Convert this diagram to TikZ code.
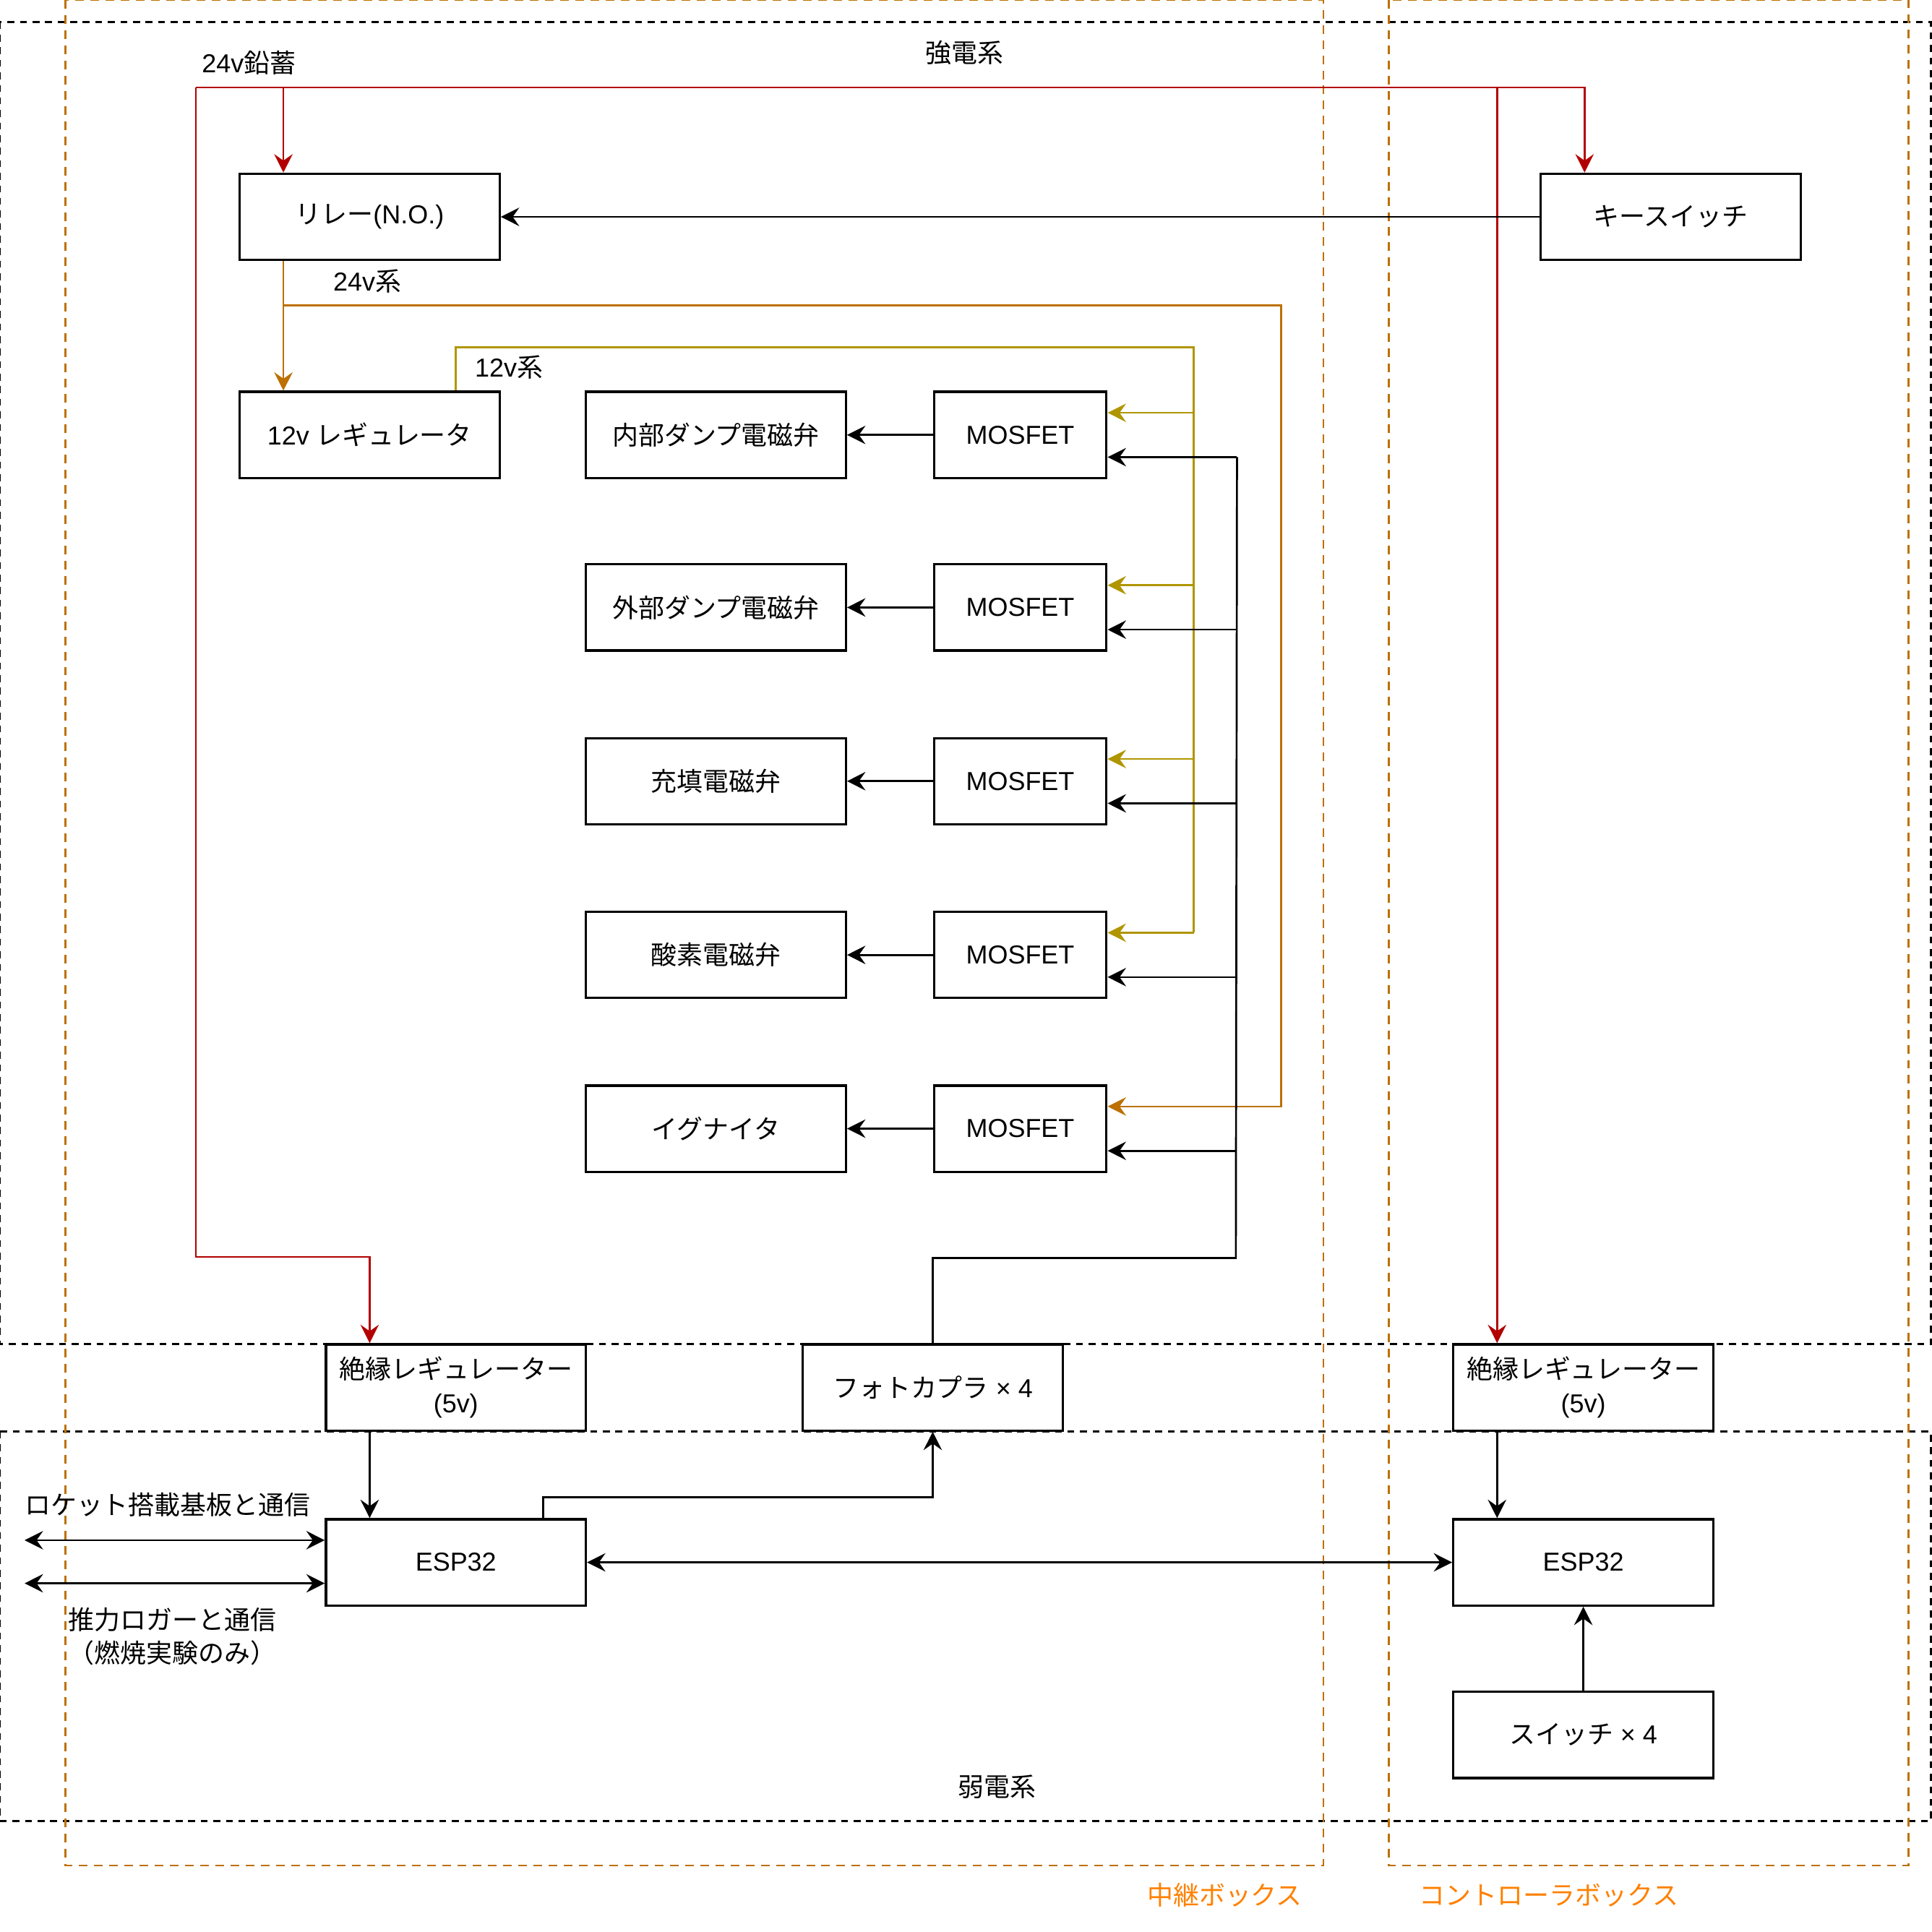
\documentclass[tikz,border=0pt]{standalone}
\usepackage{fontspec}
\setmainfont{Liberation Sans}
\newfontfamily\jp{Noto Sans CJK JP}
\usepackage{tikz}
\usetikzlibrary{arrows.meta}
\definecolor{leadred}{HTML}{B20000}
\definecolor{volta}{HTML}{BD7000}
\definecolor{voltb}{HTML}{B09500}
\definecolor{casetext}{HTML}{FF8000}

\begin{document}
\begin{tikzpicture}[x=0.02cm, y=-0.02cm,
  font=\fontsize{12}{15.5}\selectfont,
  blk/.style={draw, line width=1.1pt, fill=white, minimum width=4.22cm, minimum height=1.4cm, inner sep=1pt, align=center},
  fet/.style={blk, minimum width=2.8cm},
  lab/.style={inner sep=0pt, align=center},
  zone/.style={draw, line width=1pt, dash pattern=on 3.2pt off 2.6pt},
  case/.style={draw=volta, line width=0.9pt, dash pattern=on 4pt off 3pt},
  sig/.style={draw=black, line width=0.9pt},
  pwr/.style={draw=leadred, line width=0.9pt},
  va/.style={draw=volta, line width=0.9pt},
  vb/.style={draw=voltb, line width=0.9pt},
  tip/.style={-{Stealth[length=8.5pt, width=8.5pt, inset=3pt]}},
  both/.style={{Stealth[length=8.5pt, width=8.5pt, inset=3pt]}-{Stealth[length=8.5pt, width=8.5pt, inset=3pt]}}]
\useasboundingbox (0,0) rectangle (1568,1568);
\draw[zone] (0,18) rectangle (1567,1091);
\draw[zone] (0,1162) rectangle (1567,1478);
\draw[case] (53,0) rectangle (1074,1514);
\draw[case] (1127,0) rectangle (1549,1514);

\node[blk] (relay) at (300,176) {{\jp リレー}(N.O.)};
\node[blk] (key) at (1356,176) {\jp キースイッチ};
\node[blk] (reg) at (300,353) {12v {\jp レギュレータ}};
\node[blk] (sol1) at (581,353) {\jp 内部ダンプ電磁弁};
\node[blk] (sol2) at (581,493) {\jp 外部ダンプ電磁弁};
\node[blk] (sol3) at (581,634) {\jp 充填電磁弁};
\node[blk] (sol4) at (581,775) {\jp 酸素電磁弁};
\node[blk] (sol5) at (581,916) {\jp イグナイタ};
\foreach \i/\y in {1/353,2/493,3/634,4/775,5/916}
  \node[fet] (mos\i) at (828,\y) {MOSFET};
\node[blk] (iso1) at (370,1126) {{\jp 絶縁レギュレーター}\\(5v)};
\node[blk] (pc) at (757,1126) {{\jp フォトカプラ} × 4};
\node[blk] (iso2) at (1285,1126) {{\jp 絶縁レギュレーター}\\(5v)};
\node[blk] (esp1) at (370,1268) {ESP32};
\node[blk] (esp2) at (1285,1268) {ESP32};
\node[blk] (sw) at (1285,1408) {{\jp スイッチ} × 4};

\coordinate (bat) at (159,71);
\coordinate (bus) at (1003,1021);
\coordinate (rk) at (20,1250);
\coordinate (lg) at (20,1285);

\draw[pwr, tip] (bat) -| ([xshift=-1.4cm]key.north);
\draw[pwr, tip] (bat) -| ([xshift=-1.4cm]relay.north);
\draw[pwr, tip] (bat) |- ([xshift=-1.4cm, yshift=1.4cm]iso1.north) -- ([xshift=-1.4cm]iso1.north);
\draw[pwr, tip] ([xshift=-1.4cm]iso2.north |- bat) -- ([xshift=-1.4cm]iso2.north);
\draw[sig, tip] (key) -- (relay);

\draw[va, tip] ([xshift=-1.4cm]relay.south) -- ([xshift=-1.4cm]reg.north);
\draw[va, tip] ([xshift=-1.4cm, yshift=-0.72cm]relay.south) -| ([xshift=2.82cm, yshift=0.36cm]mos5.east) -- ([yshift=0.36cm]mos5.east);
\draw[vb] ([xshift=1.4cm]reg.north) -- ([xshift=1.4cm, yshift=0.7cm]reg.north) -| ([xshift=1.4cm, yshift=0.36cm]mos4.east);
\foreach \i in {1,...,4}
  \draw[vb, tip] ([xshift=1.4cm, yshift=0.36cm]mos\i.east) -- ([yshift=0.36cm]mos\i.east);

\draw[sig] ([xshift=2.1cm, yshift=-0.36cm]mos1.east) -- (bus) -| (pc.north);
\foreach \i in {1,...,5} {
  \draw[sig, tip] ([xshift=2.1cm, yshift=-0.36cm]mos\i.east) -- ([yshift=-0.36cm]mos\i.east);
  \draw[sig, tip] (mos\i) -- (sol\i);
}

\draw[sig, tip] ([xshift=1.42cm]esp1.north) -- ([xshift=1.42cm, yshift=0.34cm]esp1.north) -| (pc.south);
\draw[sig, tip] ([xshift=-1.4cm]iso1.south) -- ([xshift=-1.4cm]esp1.north);
\draw[sig, both] (esp1) -- (esp2);
\draw[sig, both] (rk) -- (rk -| esp1.west);
\draw[sig, both] (lg) -- (lg -| esp1.west);
\draw[sig, tip] ([xshift=-1.4cm]iso2.south) -- ([xshift=-1.4cm]esp2.north);
\draw[sig, tip] (sw) -- (esp2);

\node[lab] (batl) at (202,51) {24v{\jp 鉛蓄}};
\node[lab] (hv) at (783,43) {\jp 強電系};
\node[lab] (l24) at (298,228) {24v{\jp 系}};
\node[lab] (l12) at (413,298) {12v{\jp 系}};
\node[lab] (lv) at (809,1450) {\jp 弱電系};
\node[lab] (rkl) at (136,1221) {\jp ロケット搭載基板と通信};
\node[lab] (lgl) at (140,1328) {\jp 推力ロガーと通信\\\jp （燃焼実験のみ）};
\node[lab, text=casetext] (relb) at (994,1538) {\jp 中継ボックス};
\node[lab, text=casetext] (ctlb) at (1257,1538) {\jp コントローラボックス};
\end{tikzpicture}
\end{document}
